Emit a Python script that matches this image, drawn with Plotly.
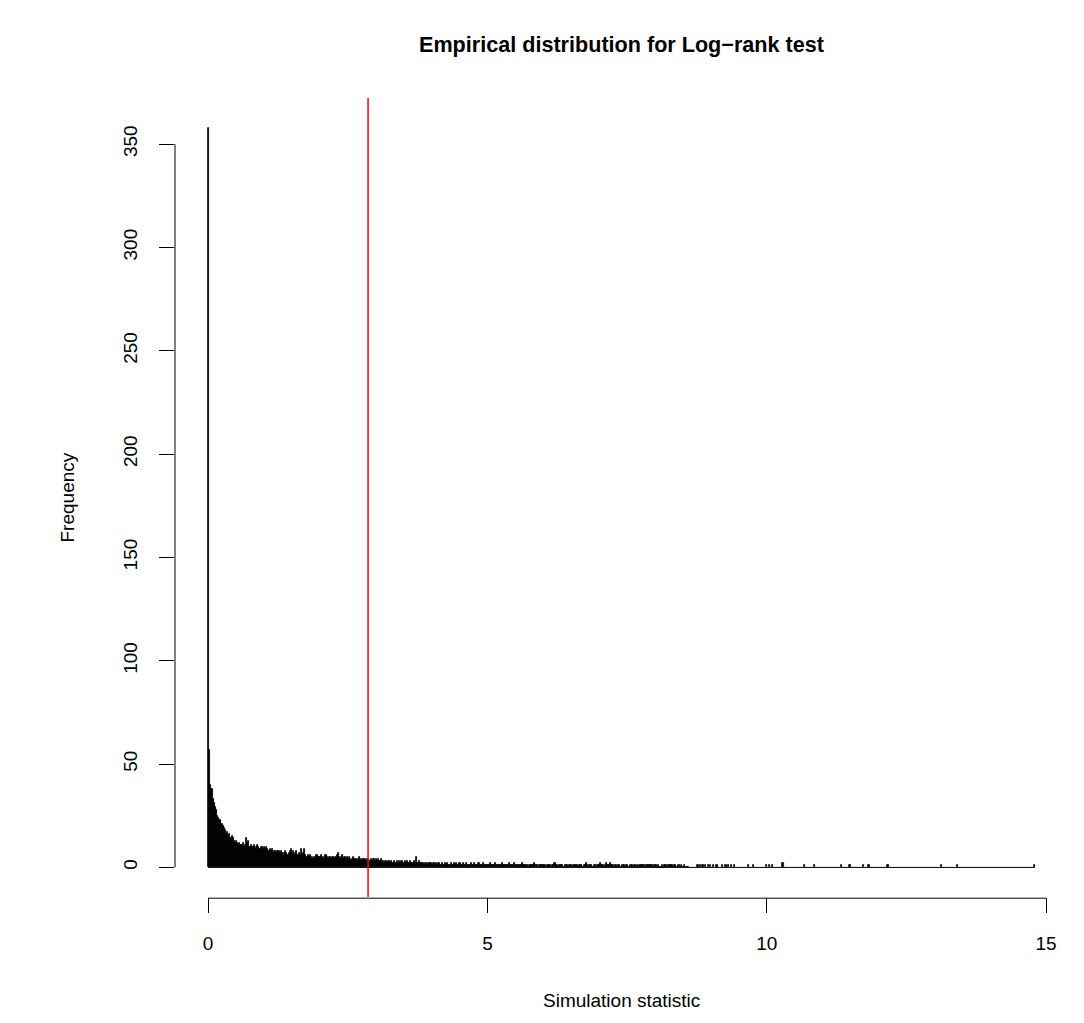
import plotly.graph_objects as go

# ---------------- data ----------------
bin_width = 0.02          # histogram bin width
x_max_break = 14.8        # last histogram break
observed_stat = 2.864     # red vertical line (observed statistic)

# counts for consecutive bins starting at 0 (bin width 0.02)
counts_0_1 = [358, 57, 40, 38, 33, 31, 29, 28, 25, 24,
              23, 23, 21, 20, 19, 18, 16, 17, 15, 16,
              14, 15, 14, 13, 12, 13, 12, 11, 12, 11,
              11, 12, 10, 11, 14, 12, 13, 10, 11, 10,
              10, 11, 9, 10, 11, 10, 9, 10, 10, 9]
counts_1_2 = [10, 9, 10, 9, 8, 9, 8, 9, 7, 8,
              8, 7, 8, 8, 7, 8, 7, 6, 7, 8,
              7, 6, 7, 8, 9, 7, 8, 6, 7, 8,
              6, 7, 6, 9, 6, 7, 9, 6, 5, 6,
              5, 6, 5, 4, 5, 4, 5, 6, 5, 5]
counts_2_3 = [5, 6, 5, 4, 5, 6, 5, 4, 5, 5,
              4, 5, 5, 4, 5, 6, 7, 5, 4, 5,
              6, 4, 5, 4, 5, 4, 5, 4, 3, 4,
              5, 4, 4, 3, 4, 5, 4, 3, 4, 4,
              3, 4, 3, 4, 3, 3, 4, 3, 4, 3]
counts_3_44 = [4, 3, 4, 3, 3, 4, 3, 2, 3, 3,
               2, 3, 3, 2, 3, 2, 3, 2, 2, 3,
               2, 3, 2, 3, 2, 2, 3, 2, 3, 2,
               2, 3, 2, 2, 3, 2, 5, 2, 2, 3,
               2, 2, 2, 1, 2, 2, 1, 2, 2, 2,
               1, 2, 2, 1, 2, 1, 2, 2, 1, 2,
               1, 1, 2, 1, 2, 1, 1, 2, 1, 1]
counts_44_5 = [2, 1, 2, 1, 1, 2, 1, 1, 2, 1,
               1, 2, 1, 1, 1, 2, 1, 1, 2, 1,
               1, 1, 2, 1, 1, 1, 2, 1, 1, 1]
counts_5_6 = [1, 1, 2, 1, 1, 1, 1, 2, 1, 1,
              1, 1, 1, 2, 1, 1, 1, 1, 1, 2,
              1, 1, 1, 1, 2, 1, 1, 1, 1, 1,
              1, 2, 1, 1, 1, 1, 0, 1, 1, 1,
              1, 1, 2, 1, 1, 0, 1, 1, 1, 1]
counts_6_7 = [1, 1, 0, 1, 1, 1, 1, 0, 1, 1,
              2, 1, 1, 0, 1, 1, 1, 1, 0, 1,
              1, 1, 0, 1, 1, 1, 0, 1, 1, 1,
              1, 0, 1, 1, 1, 0, 1, 1, 2, 1,
              0, 1, 1, 1, 0, 1, 1, 0, 1, 1]
counts_7_86 = [1, 2, 1, 1, 0, 1, 2, 1, 1, 1,
               2, 1, 1, 0, 1, 1, 0, 1, 1, 0,
               1, 1, 1, 0, 1, 1, 0, 0, 1, 1,
               0, 1, 1, 0, 1, 0, 1, 1, 1, 1,
               1, 0, 1, 1, 1, 1, 1, 1, 0, 1,
               1, 1, 0, 1, 0, 0, 1, 0, 1, 1,
               1, 0, 1, 1, 1, 1, 0, 1, 1, 0,
               0, 1, 0, 1, 0, 0, 1, 0, 0, 0]

# sparse tail: left edges of non-empty bins beyond 8.6 and their counts
tail_bin_starts = [8.76, 8.80, 8.84, 8.86, 8.90, 8.94, 8.98, 9.04, 9.10,
                   9.20, 9.26, 9.30, 9.36, 9.42, 9.66, 9.76, 9.98, 10.04,
                   10.10, 10.28, 10.66, 10.84, 11.32, 11.48, 11.72, 11.82,
                   12.16, 13.12, 13.40, 14.78]
tail_counts = [1, 1, 1, 1, 1, 1, 1, 1, 1,
               1, 1, 1, 1, 1, 1, 1, 1, 1,
               1, 2, 1, 1, 1, 1, 1, 1,
               1, 1, 1, 1]

x_ticks = [0, 5, 10, 15]
y_ticks = [0, 50, 100, 150, 200, 250, 300, 350]

# ---------------- build histogram bins ----------------
dense = (counts_0_1 + counts_1_2 + counts_2_3 + counts_3_44 +
         counts_44_5 + counts_5_6 + counts_6_7 + counts_7_86)
bin_left = [i * bin_width for i in range(len(dense))] + tail_bin_starts
bin_count = dense + tail_counts
bin_center = [b + bin_width / 2 for b in bin_left]

y_max = max(bin_count)
x_range = [0 - 0.04 * x_max_break, x_max_break * 1.04]
y_range = [0 - 0.04 * y_max, y_max * 1.04]

font_family = "Liberation Sans, Arial, Helvetica, sans-serif"
base_size = 19

fig = go.Figure()
fig.add_trace(go.Bar(
    x=bin_center, y=bin_count, width=bin_width,
    marker=dict(color="black", line=dict(color="black", width=0.8)),
    hoverinfo="x+y", showlegend=False,
))

shapes = [
    # x axis line (0..15)
    dict(type="line", xref="x", yref="paper", x0=x_ticks[0], x1=x_ticks[-1],
         y0=-0.0015, y1=-0.0015, line=dict(color="black", width=1)),
    # y axis line (0..350)
    dict(type="line", xref="paper", yref="y", x0=0, x1=0,
         y0=y_ticks[0], y1=y_ticks[-1], line=dict(color="black", width=1)),
    # baseline of empty bins (histogram borders)
    dict(type="line", xref="x", yref="y", x0=0, x1=x_max_break,
         y0=0, y1=0, line=dict(color="black", width=1)),
    # observed statistic
    dict(type="line", xref="x", yref="paper", x0=observed_stat, x1=observed_stat,
         y0=0, y1=1, line=dict(color="#FF0000", width=1.5)),
]

annotations = [
    dict(text="<b>Empirical distribution for Log\u2212rank test</b>",
         xref="paper", yref="paper", x=0.5, y=1 + (98 - 45) / 799,
         xanchor="center", yanchor="middle", showarrow=False,
         font=dict(size=21.6, color="black", family=font_family)),
    dict(text="Simulation statistic", xref="paper", yref="paper",
         x=0.5, y=-(1000 - 897) / 799, xanchor="center", yanchor="middle",
         showarrow=False, font=dict(size=base_size, color="black", family=font_family)),
    dict(text="Frequency", xref="paper", yref="paper",
         x=-(175 - 67) / 893, y=0.5, xanchor="center", yanchor="middle",
         textangle=-90, showarrow=False,
         font=dict(size=base_size, color="black", family=font_family)),
]

# the page body has an 8px margin, so the figure is offset by 8px
fig.update_layout(
    width=1076, height=1015,
    margin=dict(l=167, r=16, t=90, b=126, pad=0),
    paper_bgcolor="white", plot_bgcolor="white",
    bargap=0,
    shapes=shapes, annotations=annotations,
    font=dict(family=font_family, size=base_size, color="black"),
    xaxis=dict(range=x_range, tickvals=x_ticks, ticktext=[str(v) for v in x_ticks],
               ticks="outside", ticklen=15, tickwidth=1, tickcolor="black",
               showgrid=False, zeroline=False, showline=False,
               ticklabelstandoff=14),
    yaxis=dict(range=y_range, tickvals=y_ticks, ticktext=[str(v) for v in y_ticks],
               ticks="outside", ticklen=15, tickwidth=1, tickcolor="black",
               tickangle=-90, showgrid=False, zeroline=False, showline=False,
               ticklabelstandoff=14),
)

fig.write_html("out.html")
